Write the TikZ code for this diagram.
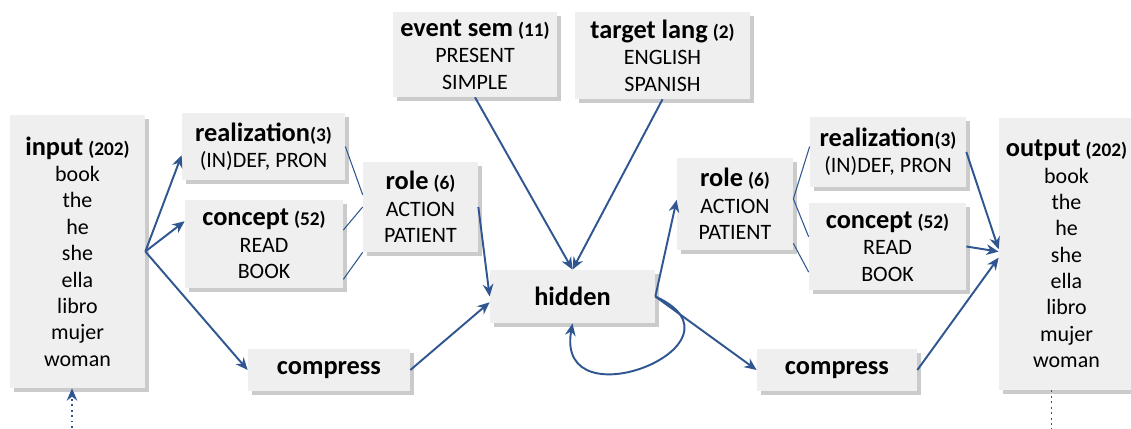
\documentclass[tikz,border=0pt]{standalone}
\usepackage{fontspec}
\setmainfont{Carlito}
\usetikzlibrary{positioning,arrows.meta,shadows}

\definecolor{netblue}{HTML}{2F5690}
\definecolor{boxgray}{HTML}{EFEFEF}

\newcommand{\boxtitle}[1]{{\fontsize{15}{17}\selectfont\bfseries #1}}
\newcommand{\boxcount}[1]{{\fontsize{11}{13}\selectfont\bfseries #1}}

\begin{document}
\begin{tikzpicture}[
  x=1cm,
  y=1cm,
  font=\fontsize{12.5}{15}\selectfont,
  box/.style={fill=boxgray, align=center, inner sep=3pt,
    drop shadow={shadow xshift=2pt, shadow yshift=-2pt, fill=black!40, opacity=0.5}},
  arr/.style={-{Stealth[length=7pt,width=6pt]}, netblue, line width=1.1pt},
  link/.style={netblue, line width=0.6pt},
  dotarr/.style={-{Stealth[length=7pt,width=6pt,open]}, netblue, line width=1.1pt, dotted}
]

\path[use as bounding box, fill=white] (0,0) rectangle (22.62,-8.58);

% encoder side
\node[box, minimum width=2.7cm, minimum height=5.46cm] (input) at (1.55,-5.03)
  {\boxtitle{input} \boxcount{(202)}\\book\\the\\he\\she\\ella\\libro\\mujer\\woman};
\node[box, minimum width=3.26cm, minimum height=1.34cm] (realL) at (5.27,-2.93)
  {\boxtitle{realization}\boxcount{(3)}\\(IN)DEF, PRON};
\node[box, minimum width=3.16cm, minimum height=1.76cm] (conceptL) at (5.28,-4.88)
  {\boxtitle{concept} \boxcount{(52)}\\READ\\BOOK};
\node[box, minimum width=2.3cm, minimum height=1.8cm] (roleL) at (8.41,-4.14)
  {\boxtitle{role} \boxcount{(6)}\\ACTION\\PATIENT};
\node[box, minimum width=3.24cm, minimum height=0.84cm] (compL) at (6.58,-7.4)
  {\boxtitle{compress}};

% conditioning and hidden layer
\node[box, minimum width=3.28cm, minimum height=1.7cm] (event) at (9.5,-1.09)
  {\boxtitle{event sem} \boxcount{(11)}\\PRESENT\\SIMPLE};
\node[box, minimum width=3.5cm, minimum height=1.74cm] (target) at (13.25,-1.11)
  {\boxtitle{target lang} \boxcount{(2)}\\ENGLISH\\SPANISH};
\node[box, minimum width=3.3cm, minimum height=1.06cm] (hidden) at (11.45,-5.93)
  {\boxtitle{hidden}};

% decoder side
\node[box, minimum width=2.32cm, minimum height=1.84cm] (roleR) at (14.7,-4.08)
  {\boxtitle{role} \boxcount{(6)}\\ACTION\\PATIENT};
\node[box, minimum width=3.12cm, minimum height=1.4cm] (realR) at (17.76,-3.04)
  {\boxtitle{realization}\boxcount{(3)}\\(IN)DEF, PRON};
\node[box, minimum width=3.14cm, minimum height=1.74cm] (conceptR) at (17.75,-4.93)
  {\boxtitle{concept} \boxcount{(52)}\\READ\\BOOK};
\node[box, minimum width=3.2cm, minimum height=0.84cm] (compR) at (16.74,-7.4)
  {\boxtitle{compress}};
\node[box, minimum width=2.7cm, minimum height=5.44cm] (output) at (21.33,-5.08)
  {\boxtitle{output} \boxcount{(202)}\\book\\the\\he\\she\\ella\\libro\\mujer\\woman};

\coordinate (inFoot) at ([xshift=-0.11cm, yshift=-0.9cm]input.south);
\coordinate (outTop) at ([xshift=-0.3cm]output.south);
\coordinate (outFoot) at ([yshift=-0.9cm]outTop);

\draw[arr] (input.east) -- (realL.186);
\draw[arr] (input.east) -- (conceptL.164);
\draw[arr] (input.east) -- (compL.west);

\draw[link] (realL.east) -- (roleL.168);
\draw[link] (conceptL.10) -- (roleL.west);
\draw[link] (conceptL.-24) -- (roleL.south west);

\draw[arr] (roleL.east) -- (hidden.west);
\draw[arr] (compL.east) -- (hidden.184);
\draw[arr] (event.south) -- (hidden.north);
\draw[arr] (target.south) -- (hidden.north);

\draw[arr] (hidden.east) -- (roleR.176);
\draw[arr] (hidden.east) -- (compR.west);
\draw[arr] (hidden.east) .. controls +(2.06,-0.94) and +(-0.36,-2.04) .. (hidden.south);

\draw[link] (roleR.5) -- (realR.176);
\draw[link] (roleR.5) -- (conceptR.173);
\draw[link] (roleR.-34) -- (conceptR.198);

\draw[arr] (realR.east) -- (output.176);
\draw[arr] (conceptR.east) -- (output.178);
\draw[arr] (compR.east) -- (output.183);

\draw[dotarr] (inFoot) -- (input.south -| inFoot);
\draw[link, line width=1.1pt, dotted] (outTop) -- (outFoot);

\end{tikzpicture}
\end{document}
